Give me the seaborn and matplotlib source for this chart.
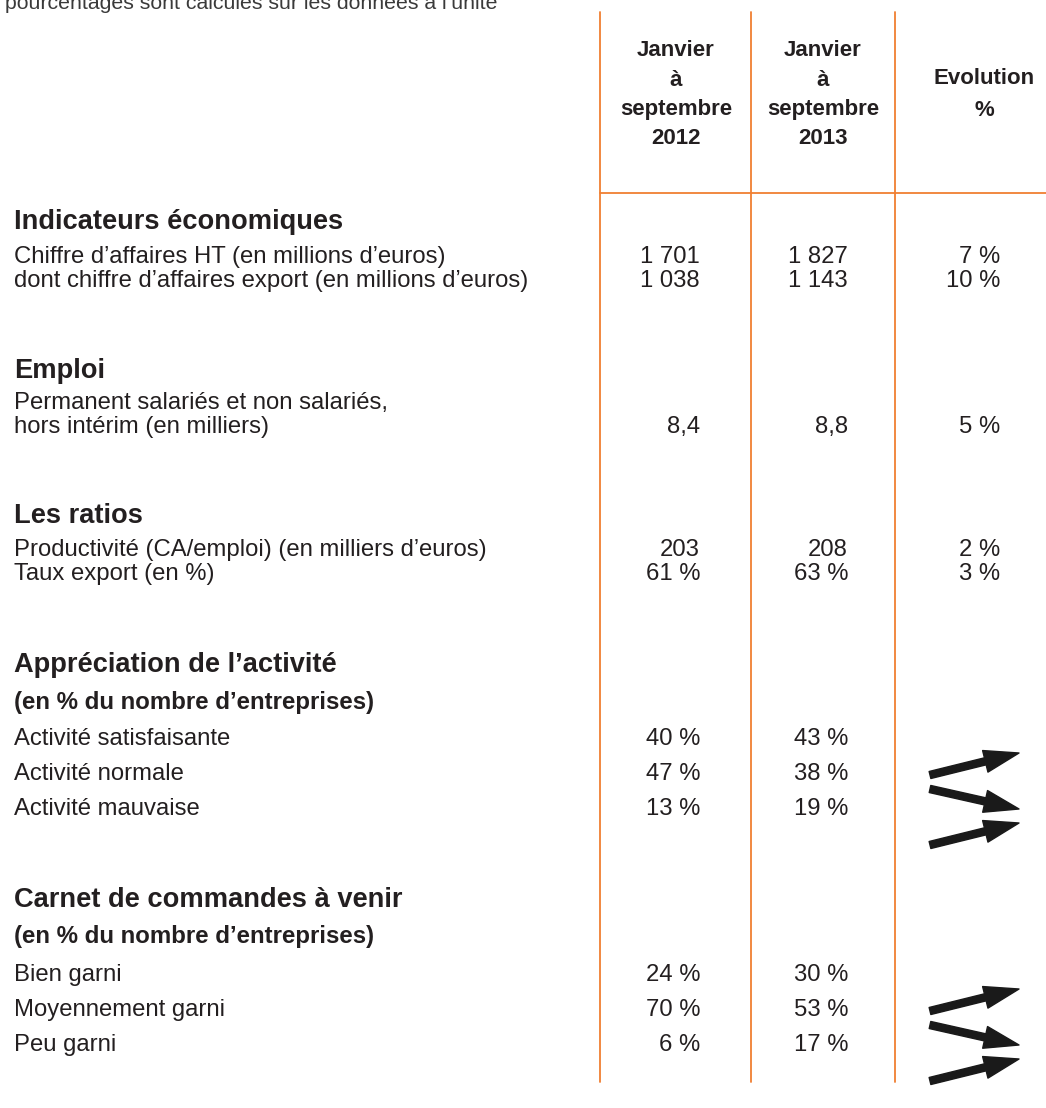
import matplotlib
matplotlib.use("Agg")
import matplotlib.pyplot as plt
import seaborn as sns

# Table content
note = "pourcentages sont calculés sur les données à l\u2019unité"
col_headers = [["Janvier", "à", "septembre", "2012"],
               ["Janvier", "à", "septembre", "2013"],
               ["Evolution", "%"]]

sections = ["Indicateurs économiques", "Emploi", "Les ratios",
            "Appréciation de l\u2019activité", "Carnet de commandes à venir"]
subtitles = [None, None, None,
             "(en % du nombre d\u2019entreprises)", "(en % du nombre d\u2019entreprises)"]

row_labels = [
    ["Chiffre d\u2019affaires HT (en millions d\u2019euros)",
     "dont chiffre d\u2019affaires export (en millions d\u2019euros)"],
    ["Permanent salariés et non salariés,\nhors intérim (en milliers)"],
    ["Productivité (CA/emploi) (en milliers d\u2019euros)", "Taux export (en %)"],
    ["Activité satisfaisante", "Activité normale", "Activité mauvaise"],
    ["Bien garni", "Moyennement garni", "Peu garni"],
]
val_2012 = [["1 701", "1 038"], ["8,4"], ["203", "61 %"],
            [40, 47, 13], [24, 70, 6]]
val_2013 = [["1 827", "1 143"], ["8,8"], ["208", "63 %"],
            [43, 38, 19], [30, 53, 17]]
evolution = [["7 %", "10 %"], ["5 %"], ["2 %", "3 %"], None, None]

# layout (pixel space)
section_y = [222, 371, 516, 665, 900]
row_step = [24, 24, 24, 35, 35]
first_row_off = [35, 32, 34, 74, 75]
col_right = [700, 848, 1000]
head_center = [676, 823, 984]
head_top = [51, 51, 79]
head_step = [29, 29, 31]

sns.set_theme(style="white")
plt.rcParams["font.family"] = ["Liberation Sans", "DejaVu Sans"]
ink = "#231f20"
orange = "#f07f32"

fig = plt.figure(figsize=(10.46, 11.08), dpi=100)
ax = fig.add_axes([0, 0, 1, 1])
ax.set_xlim(0, 1046)
ax.set_ylim(1108, 0)
ax.axis("off")

# grid lines
for x in [600, 751, 895]:
    ax.plot([x, x], [12, 1082], color=orange, lw=1.3)
ax.plot([600, 1046], [193, 193], color=orange, lw=1.3)

ax.text(5, 9, note, fontsize=15.3, color="#3a3a3a", ha="left", va="baseline")

for i, lines in enumerate(col_headers):
    for k, ln in enumerate(lines):
        ax.text(head_center[i], head_top[i] + head_step[i] * k, ln, fontsize=16,
                fontweight="bold", color=ink, ha="center", va="center")

body = 17.2
for s, title in enumerate(sections):
    y0 = section_y[s]
    ax.text(14, y0, title, fontsize=19.6, fontweight="bold", color=ink, va="center")
    if subtitles[s]:
        ax.text(14, y0 + 37, subtitles[s], fontsize=17.3, fontweight="bold",
                color=ink, va="center")
    for r, lab in enumerate(row_labels[s]):
        y = y0 + first_row_off[s] + r * row_step[s]
        lines = lab.split("\n")
        for k, ln in enumerate(lines):
            ax.text(14, y + k * 24, ln, fontsize=body, color=ink, va="center")
        yv = y + (len(lines) - 1) * 24
        a, b = val_2012[s][r], val_2013[s][r]
        ta = f"{a} %" if isinstance(a, int) else a
        tb = f"{b} %" if isinstance(b, int) else b
        ax.text(col_right[0], yv, ta, fontsize=body, color=ink, ha="right", va="center")
        ax.text(col_right[1], yv, tb, fontsize=body, color=ink, ha="right", va="center")
        if evolution[s] is not None:
            ax.text(col_right[2], yv, evolution[s][r], fontsize=body, color=ink,
                    ha="right", va="center")
        else:
            # arrow direction follows the change between the two periods
            d = 11 if b > a else -10
            yc = yv + 25
            ax.annotate("", xy=(1019, yc - d), xytext=(930, yc + d),
                        arrowprops=dict(arrowstyle="simple,head_length=1.25,head_width=0.8,tail_width=0.26",
                                        color="#1a1a1a", shrinkA=0, shrinkB=0,
                                        mutation_scale=20))

fig.savefig("out.png", dpi=100, facecolor="white")
